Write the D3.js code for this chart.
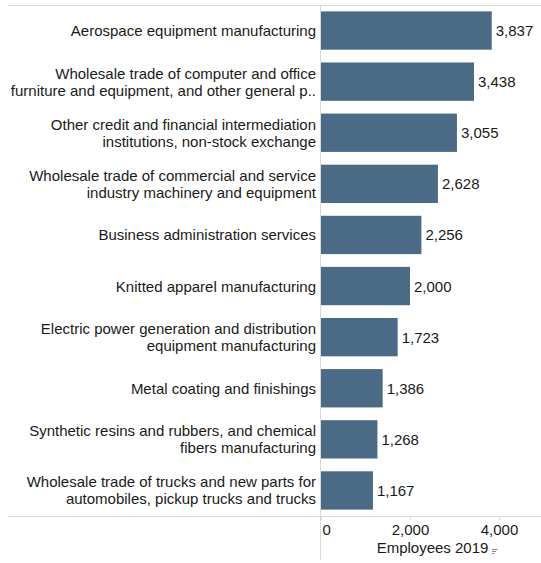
<!DOCTYPE html>
<html>
<head>
<meta charset="utf-8">
<script src="https://cdn.jsdelivr.net/npm/d3@7"></script>
<style>
  html, body { margin: 0; padding: 0; background: #fff; }
  svg { display: block; font-family: "Liberation Sans", Arial, sans-serif; }
</style>
</head>
<body>
<svg id="chart" width="541" height="563"></svg>
<script>
// Industries (label lines separated by "\n") and employee counts for 2019
const categories = [
  "Aerospace equipment manufacturing",
  "Wholesale trade of computer and office\nfurniture and equipment, and other general p..",
  "Other credit and financial intermediation\ninstitutions, non-stock exchange",
  "Wholesale trade of commercial and service\nindustry machinery and equipment",
  "Business administration services",
  "Knitted apparel manufacturing",
  "Electric power generation and distribution\nequipment manufacturing",
  "Metal coating and finishings",
  "Synthetic resins and rubbers, and chemical\nfibers manufacturing",
  "Wholesale trade of trucks and new parts for\nautomobiles, pickup trucks and trucks"
];
const employees = [3837, 3438, 3055, 2628, 2256, 2000, 1723, 1386, 1268, 1167];
const tickValues = [0, 2000, 4000];
const axisTitle = "Employees 2019";

(function draw() {
  const svg = d3.select("#chart");
  const W = 541;
  const plotLeft = 321, plotTop = 5, plotBottom = 516, lineLeft = 8;

  const x = d3.scaleLinear().domain([0, 4000]).range([plotLeft, 499]);
  const y = d3.scaleBand().domain(categories).range([plotTop, plotBottom])
    .paddingInner(0.25).paddingOuter(0.125);

  const grid = "#d9d9d9";
  const fmt = d3.format(",");

  // frame lines
  svg.append("line").attr("x1", lineLeft).attr("x2", W).attr("y1", plotTop + 0.5).attr("y2", plotTop + 0.5)
    .attr("stroke", grid);
  svg.append("line").attr("x1", lineLeft).attr("x2", W).attr("y1", plotBottom + 0.5).attr("y2", plotBottom + 0.5)
    .attr("stroke", grid);
  svg.append("line").attr("x1", plotLeft - 0.5).attr("x2", plotLeft - 0.5).attr("y1", plotTop).attr("y2", 560)
    .attr("stroke", grid);

  // bars
  svg.append("g").selectAll("rect").data(categories).join("rect")
    .attr("x", x(0))
    .attr("y", d => y(d))
    .attr("width", (d, i) => x(employees[i]) - x(0))
    .attr("height", y.bandwidth())
    .attr("fill", "#4b6a85");

  // value labels
  svg.append("g").selectAll("text").data(categories).join("text")
    .attr("x", (d, i) => x(employees[i]) + 4)
    .attr("y", d => y(d) + y.bandwidth() / 2 + 5.5)
    .attr("font-size", 15)
    .attr("fill", "#1a1a1a")
    .text((d, i) => fmt(employees[i]));

  // category labels
  svg.append("g").selectAll("text").data(categories).join("text")
    .attr("text-anchor", "end")
    .attr("font-size", 15)
    .attr("fill", "#1a1a1a")
    .each(function (d) {
      const lines = d.split("\n");
      const cy = y(d) + y.bandwidth() / 2;
      const lh = 17;
      const first = cy + 5.5 - (lines.length - 1) * lh / 2;
      d3.select(this).selectAll("tspan").data(lines).join("tspan")
        .attr("x", 316)
        .attr("y", (l, i) => first + i * lh)
        .text(l => l);
    });

  // x axis
  const axis = svg.append("g").attr("transform", `translate(0,${plotBottom})`)
    .call(d3.axisBottom(x).tickValues(tickValues).tickFormat(fmt).tickSize(3).tickSizeOuter(0));
  axis.select(".domain").remove();
  axis.selectAll(".tick line").attr("stroke", grid).attr("transform", "translate(0,1)");
  axis.selectAll(".tick text")
    .attr("font-size", 15).attr("fill", "#1a1a1a")
    .attr("font-family", "Liberation Sans, Arial, sans-serif")
    .attr("y", 8).attr("dy", "0.71em")
    .attr("text-anchor", d => d === 0 ? "start" : "middle")
    .attr("dx", d => d === 0 ? 1 : 0);

  // axis title with sort indicator
  svg.append("text")
    .attr("x", 432.5).attr("y", 553)
    .attr("text-anchor", "middle")
    .attr("font-size", 15).attr("fill", "#1a1a1a")
    .text(axisTitle);
  const icon = svg.append("g").attr("stroke", "#8a8a8a").attr("stroke-width", 1);
  [[492, 497.5, 549.5], [492, 496, 551.5], [492, 494.5, 553.5]].forEach(([a, b, yy]) => {
    icon.append("line").attr("x1", a).attr("x2", b).attr("y1", yy).attr("y2", yy);
  });
})();
</script>
</body>
</html>
